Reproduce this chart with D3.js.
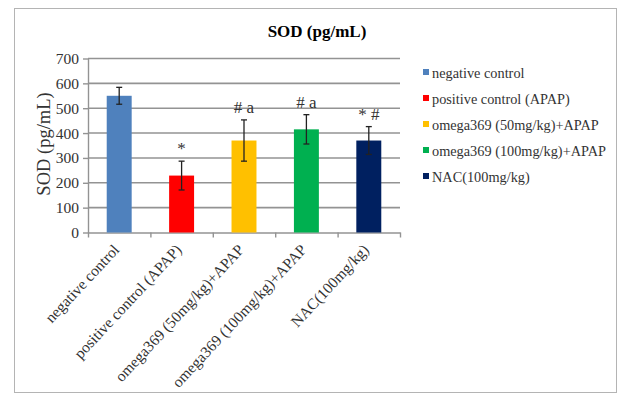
<!DOCTYPE html>
<html>
<head>
<meta charset="utf-8">
<script src="https://cdn.jsdelivr.net/npm/d3@7"></script>
<style>
  body { margin: 0; background: #fff; }
  svg text { font-family: "Liberation Serif", "DejaVu Serif", serif; }
</style>
</head>
<body>
<svg id="canvas"></svg>
<script>
// Data
let groups = [
  "negative control",
  "positive control (APAP)",
  "omega369 (50mg/kg)+APAP",
  "omega369 (100mg/kg)+APAP",
  "NAC(100mg/kg)"
];
let means = [550, 229, 370, 415, 370];
let errors = [34, 58, 83, 59, 56];
let marks = ["", "*", "# a", "# a", "* #"];
let colors = ["#4f81bd", "#ff0000", "#ffc000", "#00b050", "#002060"];
let yTicks = [0, 100, 200, 300, 400, 500, 600, 700];

let width = 619;
let height = 394;
let plotLeft = 88, plotRight = 400, plotTop = 58.5, plotBottom = 232.5;
let serif = "'Liberation Serif', 'DejaVu Serif', serif";

let canvas = d3.select("#canvas").attr("width", width).attr("height", height);

canvas.append("rect").attr("width", width).attr("height", height).attr("fill", "#fff");
canvas.append("rect")
  .attr("x", 14.5).attr("y", 8.5).attr("width", 602).attr("height", 384)
  .attr("fill", "none").attr("stroke", "#b4b4b4");

// Scales
let xScale = d3.scaleBand().domain(groups).range([plotLeft, plotRight])
  .paddingInner(0.6).paddingOuter(0.3);
let xEdges = d3.scaleLinear().domain([0, groups.length]).range([plotLeft, plotRight]);
let yScale = d3.scaleLinear().domain([0, 700]).range([plotBottom, plotTop]);

// Title
canvas.append("text")
  .attr("x", 317).attr("y", 37)
  .attr("text-anchor", "middle")
  .attr("font-size", 17).attr("font-weight", "bold")
  .style("font-family", serif)
  .text("SOD (pg/mL)");

// Gridlines
canvas.append("g")
  .selectAll("line")
  .data(yTicks.filter(d => d > 0))
  .enter()
  .append("line")
  .attr("x1", plotLeft).attr("x2", plotRight)
  .attr("y1", d => yScale(d)).attr("y2", d => yScale(d))
  .attr("stroke", "#939393").attr("stroke-width", 1.6);

// Axes
let yAxis = d3.axisLeft(yScale).tickValues(yTicks).tickSize(5).tickSizeOuter(0).tickPadding(4);
let yG = canvas.append("g").attr("transform", "translate(" + plotLeft + ",0)").call(yAxis);
yG.selectAll("path, line").attr("stroke", "#939393").attr("stroke-width", 1.4);
yG.selectAll("text").attr("font-size", 15.5).attr("fill", "#333")
  .style("font-family", serif);

let xAxis = d3.axisBottom(xEdges).tickValues(d3.range(groups.length + 1))
  .tickFormat("").tickSize(5).tickSizeOuter(0);
let xG = canvas.append("g").attr("transform", "translate(0," + plotBottom + ")").call(xAxis);
xG.selectAll("path, line").attr("stroke", "#939393").attr("stroke-width", 1.4);

// Y label
canvas.append("text")
  .attr("transform", "translate(50,144) rotate(-90)")
  .attr("text-anchor", "middle")
  .attr("font-size", 18.5).attr("fill", "#333")
  .style("font-family", serif)
  .text("SOD (pg/mL)");

// Bars
canvas.append("g")
  .selectAll("rect")
  .data(groups)
  .enter()
  .append("rect")
  .attr("x", d => xScale(d))
  .attr("width", xScale.bandwidth())
  .attr("y", (d, i) => yScale(means[i]))
  .attr("height", (d, i) => plotBottom - yScale(means[i]))
  .attr("fill", (d, i) => colors[i]);

// Error bars
let eb = canvas.append("g").attr("stroke", "#222").attr("stroke-width", 1.3);
groups.forEach((g, i) => {
  let cx = xScale(g) + xScale.bandwidth() / 2;
  let y1 = yScale(means[i] + errors[i]);
  let y2 = yScale(means[i] - errors[i]);
  eb.append("line").attr("x1", cx).attr("x2", cx).attr("y1", y1).attr("y2", y2);
  eb.append("line").attr("x1", cx - 3).attr("x2", cx + 3).attr("y1", y1).attr("y2", y1);
  eb.append("line").attr("x1", cx - 3).attr("x2", cx + 3).attr("y1", y2).attr("y2", y2);
});

// Significance marks
canvas.append("g")
  .selectAll("text")
  .data(groups)
  .enter()
  .append("text")
  .attr("x", d => xScale(d) + xScale.bandwidth() / 2)
  .attr("y", (d, i) => yScale(means[i] + errors[i]) - 7)
  .attr("text-anchor", "middle")
  .attr("font-size", 17).attr("fill", "#333")
  .style("font-family", serif)
  .text((d, i) => marks[i]);

// X labels
canvas.append("g")
  .selectAll("text")
  .data(groups)
  .enter()
  .append("text")
  .attr("transform", d => "translate(" + (xScale(d) + xScale.bandwidth() / 2 + 1) + "," + (plotBottom + 18) + ") rotate(-47)")
  .attr("text-anchor", "end")
  .attr("font-size", 15.5).attr("fill", "#333")
  .style("font-family", serif)
  .text(d => d);

// Legend
let legend = canvas.append("g").attr("transform", "translate(423,73)");
groups.forEach((g, i) => {
  let row = legend.append("g").attr("transform", "translate(0," + i * 26 + ")");
  row.append("rect").attr("x", 0).attr("y", -4).attr("width", 6).attr("height", 6).attr("fill", colors[i]);
  row.append("text").attr("x", 9).attr("y", 4.5)
    .attr("font-size", 14.3).attr("fill", "#333")
    .style("font-family", serif)
    .text(g);
});
</script>
</body>
</html>
